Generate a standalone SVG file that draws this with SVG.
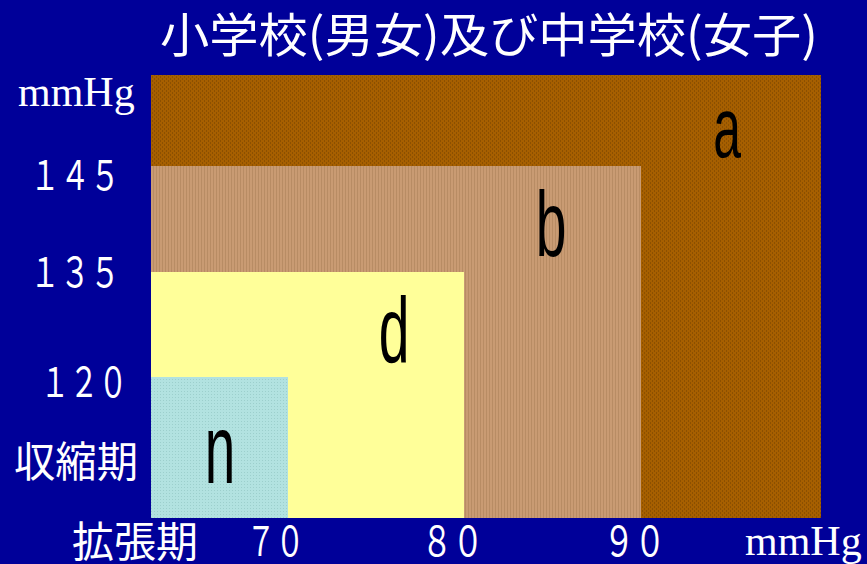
<svg xmlns="http://www.w3.org/2000/svg" width="867" height="564" viewBox="0 0 867 564">
<defs>
<style>
.w{fill:#ffffff}
.cjk{font-family:"Noto Sans CJK JP","Noto Sans CJK SC",sans-serif}
.ser{font-family:"Liberation Serif","Times New Roman",serif;font-size:42px}
.lab{font-family:"Liberation Sans",Arial,sans-serif;fill:#000000;text-anchor:middle}
</style>
<pattern id="pa" width="4" height="4" patternUnits="userSpaceOnUse">
<rect width="4" height="4" fill="#a65f00"/>
<rect x="0" y="0" width="1" height="2" fill="#8c5000"/>
<rect x="2" y="2" width="1" height="2" fill="#8c5000"/>
</pattern>
<pattern id="pb" width="3" height="3" patternUnits="userSpaceOnUse">
<rect width="3" height="3" fill="#c99b73"/>
<rect x="0" y="0" width="1" height="3" fill="#b88c64"/>
</pattern>
<pattern id="pn" width="3" height="3" patternUnits="userSpaceOnUse">
<rect width="3" height="3" fill="#b2e2e0"/>
<rect x="1" y="1" width="1" height="1" fill="#9ccfcc"/>
</pattern>
</defs>
<rect width="867" height="564" fill="#000099"/>
<g id="title">
<text class="w cjk" x="160" y="52" font-size="47" textLength="658" lengthAdjust="spacingAndGlyphs">小学校(男女)及び中学校(女子)</text>
</g>
<g id="region-a">
<rect x="151" y="75" width="670" height="443" fill="url(#pa)"/>
<text class="lab" font-size="86" transform="translate(727,157) scale(0.58,1)">a</text>
</g>
<g id="region-b">
<rect x="151" y="166" width="490" height="352" fill="url(#pb)"/>
<text class="lab" font-size="92" transform="translate(551,256) scale(0.6,1)">b</text>
</g>
<g id="region-d">
<rect x="151" y="272" width="313" height="246" fill="#ffff99"/>
<text class="lab" font-size="92" transform="translate(394,362) scale(0.6,1)">d</text>
</g>
<g id="region-n">
<rect x="151" y="377" width="137" height="141" fill="url(#pn)"/>
<text class="lab" font-size="98" transform="translate(220,483) scale(0.56,1)">n</text>
</g>
<g id="y-axis">
<text class="w ser" x="18" y="106">mmHg</text>
<text class="w cjk" x="30" y="190" font-size="41" textLength="90" lengthAdjust="spacingAndGlyphs">１４５</text>
<text class="w cjk" x="30" y="287" font-size="41" textLength="90" lengthAdjust="spacingAndGlyphs">１３５</text>
<text class="w cjk" x="40.5" y="397" font-size="41" textLength="87" lengthAdjust="spacingAndGlyphs">１２０</text>
<text class="w cjk" x="14" y="477" font-size="42" textLength="124" lengthAdjust="spacingAndGlyphs">収縮期</text>
</g>
<g id="x-axis">
<text class="w cjk" x="72" y="557" font-size="42" textLength="126" lengthAdjust="spacingAndGlyphs">拡張期</text>
<text class="w cjk" x="246.5" y="556" font-size="41" textLength="58" lengthAdjust="spacingAndGlyphs">７０</text>
<text class="w cjk" x="421.5" y="556" font-size="41" textLength="62" lengthAdjust="spacingAndGlyphs">８０</text>
<text class="w cjk" x="603.5" y="556" font-size="41" textLength="62" lengthAdjust="spacingAndGlyphs">９０</text>
<text class="w ser" x="745" y="555">mmHg</text>
</g>
<g id="connectors"></g>
</svg>
